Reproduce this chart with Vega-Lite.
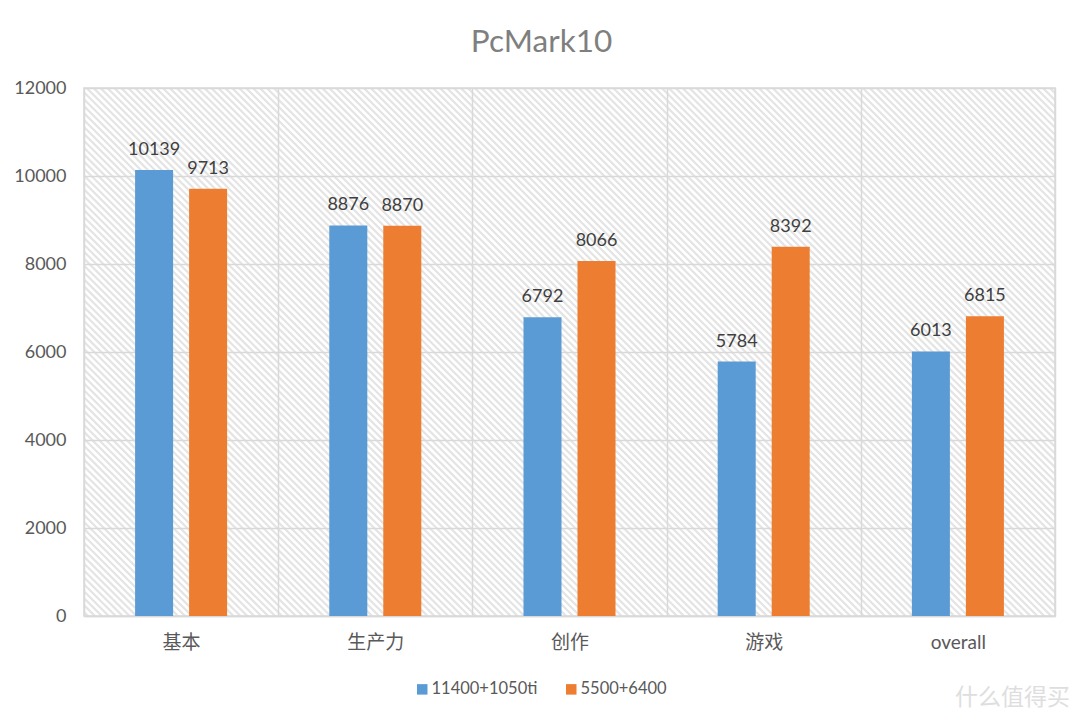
{"$schema":"https://vega.github.io/schema/vega-lite/v6.json","width":971,"height":528,"autosize":{"type":"none"},"padding":{"left":84,"top":88,"right":25,"bottom":105},"background":"#ffffff","title":{"text":"PcMark10","fontSize":31.5,"font":"Lato","fontWeight":"normal","color":"#7f7f7f","anchor":"middle","offset":21,"dx":-28},"config":{"view":{"stroke":"#d9d9d9","strokeWidth":1.5},"font":"Lato, 'Noto Sans CJK SC'"},"layer":[{"data":{"values":[{"a":-65,"b":-286},{"a":1035,"b":814}]},"mark":{"type":"line","clip":true,"stroke":"#d9d9d9","strokeOpacity":0.7,"strokeWidth":1700,"strokeDash":[2.2,2.7]},"encoding":{"x":{"field":"a","type":"quantitative","scale":{"domain":[0,971]},"axis":null},"y":{"field":"b","type":"quantitative","scale":{"domain":[0,528]},"axis":null}}},{"data":{"values":[{"category":"基本","series":"11400+1050ti","score":10139},{"category":"基本","series":"5500+6400","score":9713},{"category":"生产力","series":"11400+1050ti","score":8876},{"category":"生产力","series":"5500+6400","score":8870},{"category":"创作","series":"11400+1050ti","score":6792},{"category":"创作","series":"5500+6400","score":8066},{"category":"游戏","series":"11400+1050ti","score":5784},{"category":"游戏","series":"5500+6400","score":8392},{"category":"overall","series":"11400+1050ti","score":6013},{"category":"overall","series":"5500+6400","score":6815}]},"encoding":{"x":{"field":"category","type":"nominal","sort":["基本","生产力","创作","游戏","overall"],"scale":{"paddingInner":0,"paddingOuter":0},"axis":{"title":"什么值得买","titleX":928,"titleY":70,"titleFontSize":23,"titleColor":"#dedede","titleFontWeight":"normal","titleFont":"Noto Sans CJK SC","labelAngle":0,"labelFontSize":19,"labelColor":"#595959","labelFont":"Lato, 'Noto Sans CJK SC'","labelPadding":17,"tickSize":0,"domainColor":"#d9d9d9","domainWidth":1.5,"grid":true,"gridColor":"#d9d9d9","gridWidth":1.5,"tickBand":"extent"}},"xOffset":{"field":"series","type":"nominal","scale":{"paddingInner":0.296,"paddingOuter":0.946,"domain":["11400+1050ti","5500+6400"]}},"y":{"field":"score","type":"quantitative","scale":{"domain":[0,12000]},"axis":{"title":null,"values":[0,2000,4000,6000,8000,10000,12000],"format":"d","labelFontSize":18,"labelColor":"#595959","labelFont":"Lato","labelPadding":18,"tickSize":0,"domain":false,"grid":true,"gridColor":"#d9d9d9","gridWidth":1.5}}},"layer":[{"mark":{"type":"bar"},"encoding":{"color":{"field":"series","type":"nominal","scale":{"domain":["11400+1050ti","5500+6400"],"range":["#5b9bd5","#ed7d31"]},"legend":{"orient":"none","legendX":330,"legendY":593,"direction":"horizontal","title":null,"symbolType":"square","symbolSize":110,"symbolStrokeWidth":0,"symbolOpacity":1,"labelFontSize":16.5,"labelColor":"#595959","labelFont":"Lato","columnPadding":25,"labelOffset":1}}}},{"mark":{"type":"text","baseline":"bottom","dy":-11,"fontSize":18,"color":"#404040","font":"Lato"},"encoding":{"text":{"field":"score","type":"quantitative","format":"d"}}}]}],"resolve":{"scale":{"x":"independent","y":"independent"}}}
